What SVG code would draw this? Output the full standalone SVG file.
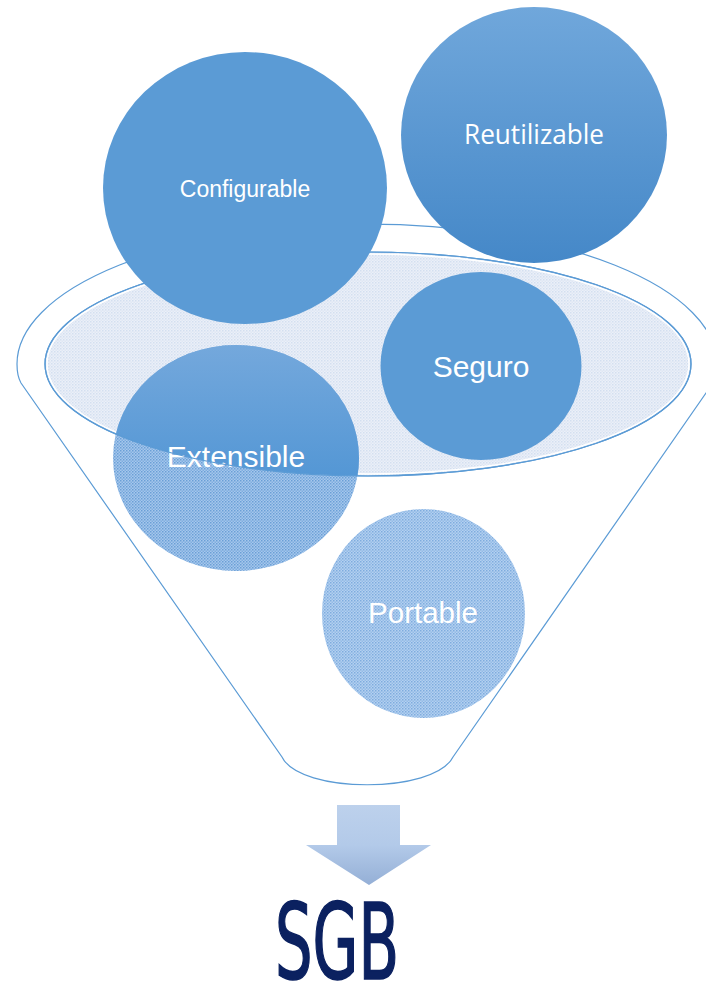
<svg xmlns="http://www.w3.org/2000/svg" width="706" height="988" viewBox="0 0 706 988">
<style>
.line{fill:none;stroke:#5b9bd5;stroke-width:1.2}
.lbl{fill:#ffffff;font-family:"Liberation Sans",Arial,sans-serif;text-anchor:middle}
</style>
<defs>
<pattern id="pInner" width="3" height="3" patternUnits="userSpaceOnUse">
<rect width="3" height="3" fill="#ebf0f8"/>
<rect width="1.5" height="1.5" fill="#d3dff0"/>
<rect x="1.5" y="1.5" width="1.5" height="1.5" fill="#dfe7f4"/>
</pattern>
<pattern id="pExt" width="3" height="3" patternUnits="userSpaceOnUse">
<rect width="3" height="3" fill="#a6c7ec"/>
<rect width="1.5" height="1.5" fill="#6a9fd6"/>
<rect x="1.5" y="1.5" width="1.5" height="1.5" fill="#7eaddf"/>
</pattern>
<pattern id="pPort" width="3" height="3" patternUnits="userSpaceOnUse">
<rect width="3" height="3" fill="#b4d0f0"/>
<rect width="1.5" height="1.5" fill="#7eacde"/>
<rect x="1.5" y="1.5" width="1.5" height="1.5" fill="#93bbe6"/>
</pattern>
<linearGradient id="gReu" x1="0" y1="0" x2="0" y2="1">
<stop offset="0" stop-color="#70a7db"/>
<stop offset="1" stop-color="#4588c8"/>
</linearGradient>
<linearGradient id="gExt" gradientUnits="userSpaceOnUse" x1="0" y1="345" x2="0" y2="476">
<stop offset="0" stop-color="#74a8dc"/>
<stop offset="1" stop-color="#5497d5"/>
</linearGradient>
<linearGradient id="gArrow" x1="0" y1="0" x2="0" y2="1">
<stop offset="0" stop-color="#bdd1ec"/>
<stop offset="0.5" stop-color="#b3cae9"/>
<stop offset="1" stop-color="#94afd6"/>
</linearGradient>
<clipPath id="cInner">
<ellipse cx="368" cy="364" rx="323" ry="112"/>
</clipPath>
</defs>

<g id="funnel">
<path class="line" d="M 21,383 Q 17,376 17,364 A 350 140 0 0 1 717,364 Q 717,376 713,383 L 453,757 C 434,794 300,794 282,757 Z"/>
<ellipse cx="368" cy="364" rx="323" ry="112" fill="url(#pInner)" stroke="#5b9bd5" stroke-width="1.2"/>
<ellipse cx="368" cy="364" rx="321" ry="110" fill="none" stroke="#ffffff" stroke-width="1.5"/>
</g>

<g id="node-extensible">
<ellipse cx="236" cy="458" rx="123" ry="113" fill="url(#pExt)"/>
<ellipse cx="236" cy="458" rx="123" ry="113" fill="url(#gExt)" clip-path="url(#cInner)"/>
<text class="lbl" x="236" y="467" font-size="30">Extensible</text>
</g>

<g id="connectors">
<ellipse class="line" cx="368" cy="364" rx="323" ry="112"/>
<polygon points="337,805 400,805 400,845 431,845 369,885 306,845 337,845" fill="url(#gArrow)"/>
</g>

<g id="node-configurable">
<ellipse cx="245" cy="188" rx="142" ry="136" fill="#5b9bd5"/>
<text class="lbl" x="245" y="197" font-size="23">Configurable</text>
</g>

<g id="node-reutilizable">
<ellipse cx="534" cy="135" rx="133" ry="128" fill="url(#gReu)"/>
<text x="534" y="144" font-size="28" fill="#ffffff" font-family="'Open Sans','Liberation Sans',sans-serif" text-anchor="middle" textLength="140" lengthAdjust="spacingAndGlyphs">Reutilizable</text>
</g>

<g id="node-seguro">
<ellipse cx="481" cy="366" rx="100.5" ry="94" fill="#5b9bd5"/>
<text class="lbl" x="481" y="377" font-size="30">Seguro</text>
</g>

<g id="node-portable">
<ellipse cx="423.5" cy="613.5" rx="101.5" ry="104.5" fill="url(#pPort)"/>
<text class="lbl" x="423" y="623" font-size="29.5">Portable</text>
</g>

<g id="node-sgb">
<text x="275" y="979" font-size="106" fill="#0b2160" stroke="#0b2160" stroke-width="1.6" font-family="'Liberation Sans Narrow','DejaVu Sans Condensed','Liberation Sans',sans-serif" textLength="124" lengthAdjust="spacingAndGlyphs">SGB</text>
</g>
</svg>
